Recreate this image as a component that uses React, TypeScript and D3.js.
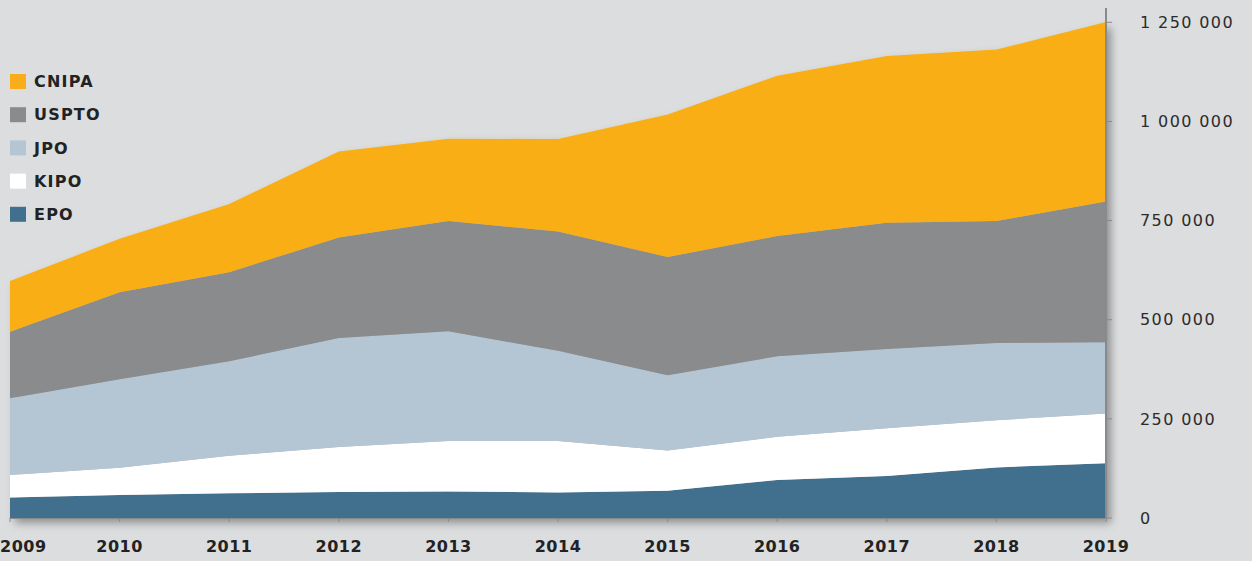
import React, { useEffect, useRef } from 'react';
import * as d3 from 'd3';

// Patents granted at the IP5 offices (stacked, bottom to top: EPO, KIPO, JPO, USPTO, CNIPA)
const years = [2009, 2010, 2011, 2012, 2013, 2014, 2015, 2016, 2017, 2018, 2019];
const epo = [51969, 58108, 62112, 65655, 66707, 64613, 68421, 95940, 105635, 127625, 137782];
const kipo = [56732, 68843, 94720, 113467, 127330, 129786, 101873, 108875, 120662, 119012, 125795];
const jpo = [193349, 222693, 238323, 274791, 277079, 227142, 189358, 203087, 199577, 194525, 179910];
const uspto = [167349, 219614, 224505, 253155, 277835, 300678, 298407, 303049, 318829, 307759, 354430];
const cnipa = [128489, 135110, 172113, 217105, 207688, 233228, 359316, 404208, 420144, 432147, 452804];

const seriesKeys = ['EPO', 'KIPO', 'JPO', 'USPTO', 'CNIPA'];
const seriesValues = [epo, kipo, jpo, uspto, cnipa];
const legendOrder = ['CNIPA', 'USPTO', 'JPO', 'KIPO', 'EPO'];
const yTicks = [0, 250000, 500000, 750000, 1000000, 1250000];

const colors: Record<string, string> = {
  CNIPA: '#f9ae19',
  USPTO: '#8a8b8d',
  JPO: '#b4c5d3',
  KIPO: '#ffffff',
  EPO: '#40708e',
};

const App = () => {
  const svgRef = useRef<SVGSVGElement>(null);

  useEffect(() => {
    const svg = d3.select(svgRef.current);
    svg.selectAll('*').remove();

    const width = 1252;
    const height = 561;
    const left = 10;
    const right = 1106;
    const bottom = 518;
    const top = 22;

    svg.append('rect').attr('width', width).attr('height', height).attr('fill', '#dcdddf');

    // table for the stack
    const table = years.map((yr, i) => {
      const row: any = { year: yr };
      seriesKeys.forEach((k, j) => (row[k] = seriesValues[j][i]));
      return row;
    });
    const stacked = d3.stack().keys(seriesKeys)(table);

    const x = d3.scaleLinear().domain([2009, 2019]).range([left, right]);
    const y = d3.scaleLinear().domain([0, 1250723]).range([bottom, top]);

    const defs = svg.append('defs');
    const filter = defs.append('filter').attr('id', 'shadow')
      .attr('x', '-5%').attr('y', '-5%').attr('width', '110%').attr('height', '115%');
    filter.append('feDropShadow')
      .attr('dx', 5).attr('dy', 5).attr('stdDeviation', 4)
      .attr('flood-color', '#000').attr('flood-opacity', 0.35);

    const area = d3.area<any>()
      .x(d => x(d.data.year))
      .y0(d => y(d[0]))
      .y1(d => y(d[1]));

    svg.append('g')
      .attr('filter', 'url(#shadow)')
      .selectAll('path')
      .data(stacked)
      .join('path')
      .attr('d', area)
      .attr('fill', d => colors[d.key]);

    // right axis line + ticks
    svg.append('line')
      .attr('x1', right).attr('x2', right)
      .attr('y1', 8).attr('y2', bottom + 1)
      .attr('stroke', '#8a8a8a').attr('stroke-width', 2);

    svg.append('line')
      .attr('x1', left).attr('x2', right)
      .attr('y1', bottom + 0.5).attr('y2', bottom + 0.5)
      .attr('stroke', '#8a8a8a').attr('stroke-width', 1);

    const yAxis = svg.append('g');
    yAxis.selectAll('line')
      .data(yTicks)
      .join('line')
      .attr('x1', right).attr('x2', right + 6)
      .attr('y1', d => y(d)).attr('y2', d => y(d))
      .attr('stroke', '#8a8a8a').attr('stroke-width', 1);
    yAxis.selectAll('text')
      .data(yTicks)
      .join('text')
      .attr('x', 1140)
      .attr('y', d => y(d))
      .attr('dy', '0.36em')
      .attr('fill', '#2b2b2b')
      .style('font-family', 'DejaVu Sans')
      .style('font-size', '16px')
      .style('letter-spacing', '1.4px')
      .text(d => d3.format(',')(d).replace(/,/g, ' '));

    // bottom ticks + year labels
    const xAxis = svg.append('g');
    xAxis.selectAll('line')
      .data(years)
      .join('line')
      .attr('x1', d => x(d)).attr('x2', d => x(d))
      .attr('y1', bottom).attr('y2', bottom + 4)
      .attr('stroke', '#8a8a8a').attr('stroke-width', 1);
    xAxis.selectAll('text')
      .data(years)
      .join('text')
      .attr('x', (d, i) => (i === 0 ? 0 : x(d)))
      .attr('y', 552)
      .attr('text-anchor', (d, i) => (i === 0 ? 'start' : 'middle'))
      .attr('fill', '#222')
      .style('font-family', 'DejaVu Sans')
      .style('font-weight', 'bold')
      .style('font-size', '16px')
      .style('letter-spacing', '0.5px')
      .text(d => String(d));

    // legend
    const legend = svg.append('g');
    const rows = legend.selectAll('g')
      .data(legendOrder)
      .join('g')
      .attr('transform', (d, i) => `translate(10, ${74 + i * 33.2})`);
    rows.append('rect')
      .attr('width', 16).attr('height', 15)
      .attr('fill', d => colors[d]);
    rows.append('text')
      .attr('x', 24)
      .attr('y', 7.5)
      .attr('dy', '0.36em')
      .attr('fill', '#222')
      .style('font-family', 'DejaVu Sans')
      .style('font-weight', 'bold')
      .style('font-size', '16px')
      .style('letter-spacing', '1.2px')
      .text(d => d);
  }, []);

  return (
    <svg
      ref={svgRef}
      width="1252"
      height="561"
      style={{ position: 'fixed', left: 0, top: 0, display: 'block' }}
    ></svg>
  );
};

export default App;
